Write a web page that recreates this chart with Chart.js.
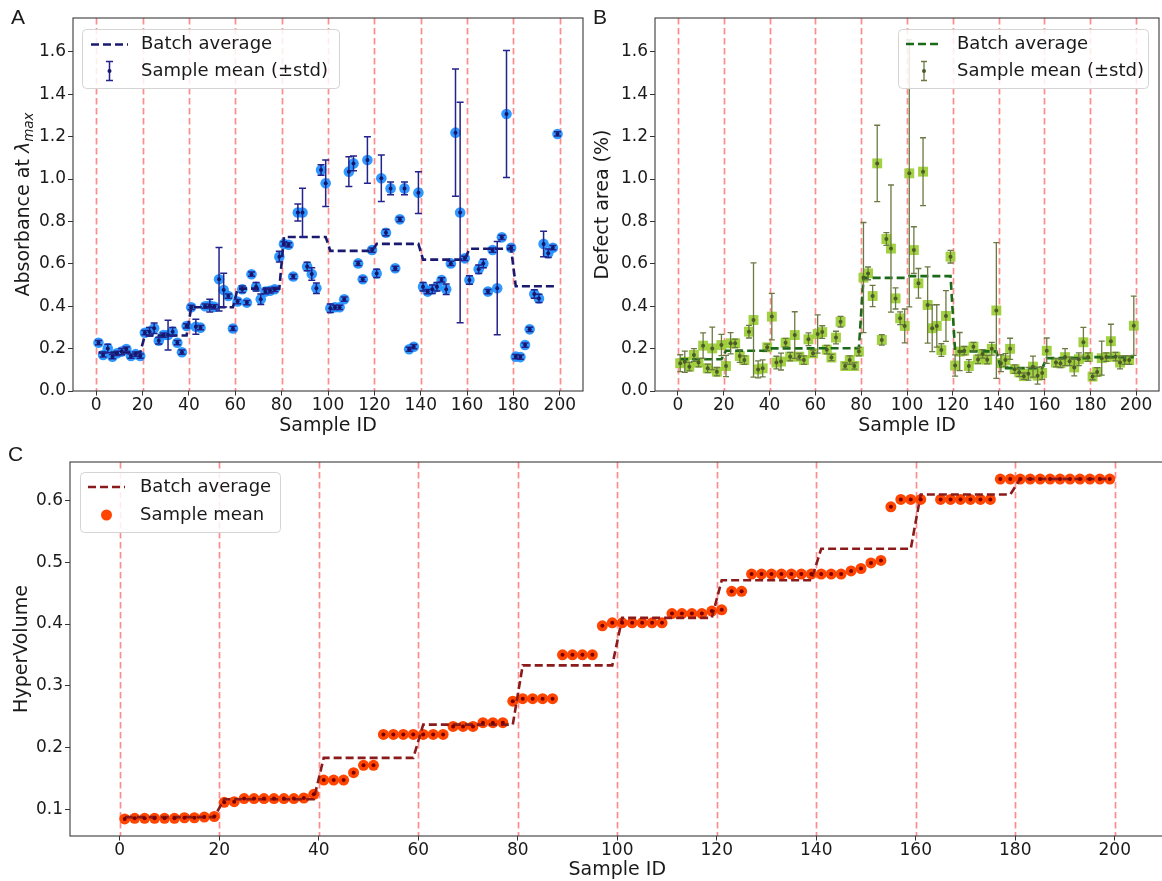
<!DOCTYPE html>
<html><head><meta charset="utf-8">
<script src="https://cdn.jsdelivr.net/npm/chart.js@4.4.1/dist/chart.umd.min.js"></script>
<style>
html,body{margin:0;padding:0;background:#fff;}
body{width:1162px;height:881px;overflow:hidden;position:relative;}
canvas{position:absolute;display:block;}
</style></head><body>
<canvas id="cA" width="590" height="440" style="left:0;top:0;width:590px;height:440px"></canvas>
<canvas id="cB" width="586" height="440" style="left:580px;top:0;width:586px;height:440px"></canvas>
<canvas id="cC" width="1170" height="441" style="left:0;top:440px;width:1170px;height:441px"></canvas>
<script>
// ---------------- data ----------------
const SAMPLE_IDS = [1,3,5,7,9,11,13,15,17,19,21,23,25,27,29,31,33,35,37,39,
  41,43,45,47,49,51,53,55,57,59,61,63,65,67,69,71,73,75,77,79,
  81,83,85,87,89,91,93,95,97,99,101,103,105,107,109,111,113,115,117,119,
  121,123,125,127,129,131,133,135,137,139,141,143,145,147,149,151,153,155,157,159,
  161,163,165,167,169,171,173,175,177,179,181,183,185,187,189,191,193,195,197,199];
const BATCH_EDGES = [0,20,40,60,80,100,120,140,160,180,200];
const X_TICKS = [0,20,40,60,80,100,120,140,160,180,200];
const Y_TICKS_AB = [0,0.2,0.4,0.6,0.8,1.0,1.2,1.4,1.6];
const Y_TICKS_C = [0.1,0.2,0.3,0.4,0.5,0.6];

// Panel A: absorbance
const ABS_MEAN = [0.228,0.170,0.201,0.162,0.178,0.186,0.198,0.165,0.174,0.165,
  0.275,0.280,0.296,0.237,0.264,0.264,0.280,0.228,0.183,0.307,
  0.395,0.303,0.299,0.400,0.403,0.397,0.527,0.476,0.448,0.295,
  0.422,0.480,0.417,0.551,0.492,0.433,0.469,0.473,0.480,0.634,
  0.694,0.690,0.540,0.842,0.842,0.587,0.552,0.485,1.043,0.980,
  0.390,0.395,0.395,0.433,1.035,1.074,0.602,0.527,1.090,0.665,
  0.555,1.004,0.747,0.956,0.579,0.810,0.956,0.197,0.209,0.936,
  0.492,0.469,0.480,0.492,0.524,0.480,0.602,1.219,0.842,0.626,
  0.524,null,0.574,0.602,0.469,0.665,0.485,0.725,1.307,0.676,
  0.162,0.160,0.217,0.291,0.458,0.437,0.694,0.650,0.676,1.213];
const ABS_STD = [0.01,0.01,0.02,0.01,0.01,0.015,0.01,0.01,0.01,0.01,
  0.01,0.02,0.025,0.015,0.01,0.07,0.02,0.01,0.01,0.01,
  0.01,0.035,0.01,0.01,0.03,0.01,0.15,0.08,0.01,0.01,
  0.01,0.015,0.01,0.01,0.02,0.025,0.01,0.01,0.01,0.025,
  0.01,0.01,0.01,0.04,0.115,0.02,0.03,0.025,0.025,0.11,
  0.02,0.01,0.01,0.01,0.07,0.035,0.01,0.01,0.11,0.01,
  0.02,0.11,0.015,0.03,0.01,0.01,0.03,0.01,0.01,0.098,
  0.02,0.01,0.02,0.02,0.01,0.025,0.01,0.30,0.52,0.01,
  0.02,null,0.02,0.02,0.01,0.01,0.22,0.01,0.30,0.01,
  0.01,0.01,0.01,0.01,0.02,0.02,0.06,0.02,0.01,0.01];
const ABS_BATCH = [0.182,0.262,0.395,0.483,0.727,0.661,0.694,0.620,0.671,0.494];

// Panel B: defect area
const DEF_MEAN = [0.131,0.138,0.115,0.170,0.134,0.214,0.107,0.201,0.091,0.217,
  0.118,0.225,0.225,0.165,0.146,0.280,0.335,0.102,0.107,0.206,
  0.351,0.134,0.139,0.228,0.162,0.264,0.162,0.146,0.244,0.178,
  0.269,0.278,0.195,0.158,0.252,0.327,0.118,0.146,0.118,0.186,
  0.535,0.555,0.448,1.074,0.241,0.717,0.672,0.437,0.343,0.307,
  1.027,0.665,0.508,1.035,0.406,0.296,0.307,0.193,0.354,0.634,
  0.120,0.186,0.190,0.118,0.209,0.149,0.175,0.148,0.199,0.380,
  0.131,0.146,0.199,0.103,0.088,0.070,0.081,0.115,0.072,0.085,
  0.190,null,0.134,0.131,0.160,0.140,0.111,0.150,0.230,0.160,
  0.068,0.090,0.155,0.160,0.235,0.162,0.134,0.146,0.146,0.308];
const DEF_STD = [0.04,0.05,0.02,0.03,0.02,0.06,0.02,0.10,0.02,0.05,
  0.05,0.05,0.02,0.03,0.02,0.03,0.27,0.04,0.04,0.015,
  0.11,0.03,0.04,0.02,0.02,0.11,0.015,0.02,0.03,0.015,
  0.09,0.03,0.02,0.015,0.03,0.025,0.015,0.02,0.015,0.02,
  0.26,0.03,0.05,0.18,0.025,0.03,0.30,0.05,0.03,0.08,
  0.63,0.11,0.07,0.16,0.18,0.11,0.10,0.03,0.12,0.03,
  0.05,0.09,0.02,0.03,0.02,0.02,0.02,0.02,0.03,0.32,
  0.04,0.03,0.05,0.02,0.02,0.015,0.03,0.05,0.04,0.03,
  0.06,null,0.02,0.02,0.04,0.02,0.04,0.03,0.07,0.02,
  0.015,0.02,0.08,0.02,0.08,0.02,0.03,0.02,0.02,0.14];
const DEF_BATCH = [0.150,0.190,0.201,0.202,0.534,0.542,0.187,0.108,0.155,0.160];

// Panel C: hypervolume
const HV_MEAN = [0.084,0.085,0.085,0.085,0.085,0.085,0.086,0.086,0.087,0.088,
  0.111,0.112,0.117,0.117,0.117,0.117,0.117,0.117,0.118,0.124,
  0.147,0.147,0.147,0.159,0.171,0.171,0.221,0.221,0.221,0.221,
  0.221,0.221,0.221,0.234,0.234,0.234,0.240,0.240,0.240,0.275,
  0.279,0.279,0.279,0.279,0.350,0.350,0.350,0.350,0.397,0.402,
  0.402,0.402,0.402,0.402,0.402,0.417,0.417,0.417,0.417,0.421,
  0.423,0.453,0.453,0.481,0.481,0.481,0.481,0.481,0.481,0.481,
  0.481,0.481,0.481,0.486,0.490,0.499,0.503,0.590,0.602,0.602,
  0.602,null,0.602,0.602,0.602,0.602,0.602,0.602,0.635,0.635,
  0.635,0.635,0.635,0.635,0.635,0.635,0.635,0.635,0.635,0.635];
const HV_BATCH = [0.087,0.116,0.183,0.237,0.333,0.410,0.471,0.522,0.610,0.635];

// ---------------- helpers ----------------
const FONT = "'DejaVu Sans', sans-serif";
Chart.defaults.font.family = FONT;
Chart.defaults.color = '#1a1a1a';
const TXT = '#1a1a1a';
const VLINE = 'rgba(255,70,70,0.62)';
const BATCH_DASH = [8, 4];

function pts(mean) {
  return SAMPLE_IDS.map((id, i) => mean[i] == null ? null : {x: id, y: mean[i]}).filter(p => p);
}
function batchPts(mean, batch) {
  return SAMPLE_IDS.map((id, i) => mean[i] == null ? null :
    {x: id, y: batch[Math.min(Math.floor(id / 20), batch.length - 1)]}).filter(p => p);
}
function xScale(h) {
  return {
    type: 'linear', min: -10, max: 210,
    afterBuildTicks: s => { s.ticks = X_TICKS.map(v => ({value: v})); },
    afterFit: s => { s.height = h; },
    ticks: {font: {size: 17}, color: TXT, padding: 0, maxRotation: 0, autoSkip: false, callback: v => String(v)},
    grid: {drawOnChartArea: false, drawTicks: true, tickLength: 4.5, color: '#333', lineWidth: 1},
    border: {display: false}
  };
}
function yScale(min, max, ticks, w) {
  return {
    type: 'linear', min: min, max: max,
    afterBuildTicks: s => { s.ticks = ticks.map(v => ({value: v})); },
    afterFit: s => { s.width = w; },
    ticks: {font: {size: 17}, color: TXT, padding: 2, autoSkip: false, callback: v => Number(v).toFixed(1)},
    grid: {drawOnChartArea: false, drawTicks: true, tickLength: 5, color: '#333', lineWidth: 1},
    border: {display: false}
  };
}
function roundRect(ctx, x, y, w, h, r) {
  ctx.beginPath();
  ctx.moveTo(x + r, y); ctx.lineTo(x + w - r, y); ctx.quadraticCurveTo(x + w, y, x + w, y + r);
  ctx.lineTo(x + w, y + h - r); ctx.quadraticCurveTo(x + w, y + h, x + w - r, y + h);
  ctx.lineTo(x + r, y + h); ctx.quadraticCurveTo(x, y + h, x, y + h - r);
  ctx.lineTo(x, y + r); ctx.quadraticCurveTo(x, y, x + r, y); ctx.closePath();
}
function drawErrSymbol(ctx, x, y, half, cap, color, dot, lw) {
  ctx.strokeStyle = color; ctx.lineWidth = lw; ctx.setLineDash([]);
  ctx.beginPath();
  ctx.moveTo(x, y - half); ctx.lineTo(x, y + half);
  ctx.moveTo(x - cap, y - half); ctx.lineTo(x + cap, y - half);
  ctx.moveTo(x - cap, y + half); ctx.lineTo(x + cap, y + half);
  ctx.stroke();
  ctx.fillStyle = dot; ctx.beginPath(); ctx.arc(x, y, 2, 0, Math.PI * 2); ctx.fill();
}

function decor(cfg) {
  return {
    id: 'decor',
    beforeDatasetsDraw(chart) {
      const {ctx, chartArea: a, scales: {x}} = chart;
      ctx.save();
      ctx.beginPath(); ctx.rect(a.left, a.top, a.right - a.left, a.bottom - a.top); ctx.clip();
      ctx.strokeStyle = VLINE; ctx.lineWidth = 1.7; ctx.setLineDash([6.5, 3.5]);
      BATCH_EDGES.forEach(v => {
        const px = Math.round(x.getPixelForValue(v)) + 0.5;
        ctx.beginPath(); ctx.moveTo(px, a.top); ctx.lineTo(px, a.bottom); ctx.stroke();
      });
      ctx.restore();
    },
    afterDatasetsDraw(chart) {
      const {ctx, chartArea: a, scales: {x, y}} = chart;
      ctx.save();
      ctx.beginPath(); ctx.rect(a.left, a.top, a.right - a.left, a.bottom - a.top); ctx.clip();
      ctx.setLineDash([]);
      SAMPLE_IDS.forEach((id, i) => {
        const m = cfg.mean[i];
        if (m == null) return;
        const px = x.getPixelForValue(id);
        if (cfg.std) {
          const s = cfg.std[i] || 0;
          const t = y.getPixelForValue(m + s), b = y.getPixelForValue(m - s);
          ctx.strokeStyle = cfg.errColor; ctx.lineWidth = cfg.errWidth;
          ctx.beginPath();
          ctx.moveTo(px, t); ctx.lineTo(px, b);
          ctx.moveTo(px - cfg.cap, t); ctx.lineTo(px + cfg.cap, t);
          ctx.moveTo(px - cfg.cap, b); ctx.lineTo(px + cfg.cap, b);
          ctx.stroke();
        }
        ctx.fillStyle = cfg.dotColor;
        ctx.beginPath(); ctx.arc(px, y.getPixelForValue(m), 2, 0, Math.PI * 2); ctx.fill();
      });
      ctx.restore();
    },
    afterDraw(chart) {
      const {ctx, chartArea: a} = chart;
      ctx.save();
      // frame
      ctx.strokeStyle = '#3a3a3a'; ctx.lineWidth = 1.1; ctx.setLineDash([]);
      ctx.strokeRect(a.left, a.top, a.right - a.left, a.bottom - a.top);
      // x title
      ctx.fillStyle = TXT; ctx.textAlign = 'center'; ctx.textBaseline = 'middle';
      ctx.font = '19px ' + FONT;
      ctx.fillText('Sample ID', (a.left + a.right) / 2 - cfg.xTitleShift, a.bottom + cfg.xTitleOff);
      // y title
      const cx = a.left - cfg.yTitleOff, cy = (a.top + a.bottom) / 2;
      ctx.save(); ctx.translate(cx, cy); ctx.rotate(-Math.PI / 2);
      if (cfg.yTitleParts) {
        let total = 0;
        cfg.yTitleParts.forEach(p => { ctx.font = p.font; p.w = ctx.measureText(p.t).width; total += p.w; });
        let xx = -total / 2;
        ctx.textAlign = 'left'; ctx.textBaseline = 'alphabetic';
        cfg.yTitleParts.forEach(p => { ctx.font = p.font; ctx.fillText(p.t, xx, p.dy); xx += p.w; });
      } else {
        ctx.font = '19px ' + FONT; ctx.fillText(cfg.yTitle, 0, 0);
      }
      ctx.restore();
      // legend
      const L = cfg.legend;
      roundRect(ctx, L.x + 0.5, L.y + 0.5, L.w, L.h, 4);
      ctx.fillStyle = 'rgba(255,255,255,0.85)'; ctx.fill();
      ctx.strokeStyle = '#d4d4d4'; ctx.lineWidth = 1; ctx.stroke();
      // row 1: dashed line
      ctx.strokeStyle = cfg.lineColor; ctx.lineWidth = 2.6; ctx.setLineDash(BATCH_DASH);
      ctx.beginPath(); ctx.moveTo(L.lx1, L.r1); ctx.lineTo(L.lx2, L.r1); ctx.stroke();
      ctx.setLineDash([]);
      // row 2 symbol
      const sx = (L.lx1 + L.lx2) / 2;
      if (cfg.std) {
        drawErrSymbol(ctx, sx, L.r2, 9.5, cfg.cap, cfg.errColor, cfg.dotColor, cfg.errWidth);
      } else {
        ctx.fillStyle = cfg.markerColor; ctx.beginPath(); ctx.arc(sx, L.r2, 5.5, 0, Math.PI * 2); ctx.fill();
      }
      ctx.fillStyle = TXT; ctx.font = '18px ' + FONT; ctx.textAlign = 'left'; ctx.textBaseline = 'middle';
      ctx.fillText('Batch average', L.tx, L.r1);
      ctx.fillText(cfg.meanLabel, L.tx, L.r2);
      // panel letter
      ctx.font = "21px 'Liberation Sans', Arial, sans-serif"; ctx.textBaseline = 'alphabetic';
      ctx.fillText(cfg.letter, cfg.letterX, cfg.letterY);
      ctx.restore();
    }
  };
}

function makeChart(id, cfg) {
  return new Chart(document.getElementById(id), {
    type: 'scatter',
    data: {
      datasets: [
        {label: 'Batch average', data: batchPts(cfg.mean, cfg.batch), showLine: true,
         borderColor: cfg.lineColor, borderWidth: 2.6, borderDash: BATCH_DASH, pointRadius: 0,
         fill: false, tension: 0, order: 0},
        {label: cfg.meanLabel, data: pts(cfg.mean), pointStyle: cfg.pointStyle, pointRadius: cfg.pointRadius,
         backgroundColor: cfg.markerColor, borderWidth: 0, order: 1}
      ]
    },
    options: {
      responsive: false, animation: false, events: [],
      layout: {padding: cfg.padding},
      plugins: {legend: {display: false}, tooltip: {enabled: false}},
      scales: {x: xScale(cfg.xH), y: yScale(cfg.yMin, cfg.yMax, cfg.yTicks, cfg.yW)}
    },
    plugins: [decor(cfg)]
  });
}

// Panel A
makeChart('cA', {
  mean: ABS_MEAN, std: ABS_STD, batch: ABS_BATCH,
  lineColor: '#191970', markerColor: 'rgba(30,144,255,0.92)', errColor: '#23238c', dotColor: '#16166a',
  errWidth: 1.5, cap: 3.5, pointStyle: 'circle', pointRadius: 5.3,
  padding: {left: 0, top: 18, right: 7, bottom: 9}, xH: 40, yW: 73,
  yMin: 0, yMax: 1.76, yTicks: Y_TICKS_AB,
  xTitleOff: 35, xTitleShift: 0, yTitleOff: 51,
  yTitleParts: [
    {t: 'Absorbance at ', font: '19px ' + FONT, dy: 7},
    {t: 'λ', font: 'italic 19px ' + FONT, dy: 7},
    {t: 'max', font: 'italic 13.5px ' + FONT, dy: 11}
  ],
  meanLabel: 'Sample mean (±std)',
  legend: {x: 82, y: 29, w: 257, h: 59, lx1: 91, lx2: 128, r1: 44.5, r2: 71, tx: 141},
  letter: 'A', letterX: 11, letterY: 24
});

// Panel B
makeChart('cB', {
  mean: DEF_MEAN, std: DEF_STD, batch: DEF_BATCH,
  lineColor: '#1a6a1a', markerColor: 'rgba(154,205,50,0.92)', errColor: '#6b7a43', dotColor: '#4c5a2a',
  errWidth: 1.3, cap: 3, pointStyle: 'rect', pointRadius: 7,
  padding: {left: 0, top: 18, right: 2, bottom: 9}, xH: 40, yW: 75,
  yMin: 0, yMax: 1.76, yTicks: Y_TICKS_AB,
  xTitleOff: 35, xTitleShift: 0, yTitleOff: 52, yTitle: 'Defect area (%)',
  meanLabel: 'Sample mean (±std)',
  legend: {x: 318, y: 29, w: 250, h: 59, lx1: 326, lx2: 362, r1: 44, r2: 71, tx: 377},
  letter: 'B', letterX: 13, letterY: 24
});

// Panel C
makeChart('cC', {
  mean: HV_MEAN, std: null, batch: HV_BATCH,
  lineColor: '#8b1a1a', markerColor: '#ff4500', dotColor: '#7a0000',
  pointStyle: 'circle', pointRadius: 5.5, cap: 3,
  padding: {left: 0, top: 22, right: 5, bottom: 10}, xH: 35, yW: 70,
  yMin: 0.0564, yMax: 0.6626, yTicks: Y_TICKS_C,
  xTitleOff: 34, xTitleShift: 0, yTitleOff: 48, yTitle: 'HyperVolume',
  meanLabel: 'Sample mean',
  legend: {x: 80, y: 32, w: 200, h: 60, lx1: 88, lx2: 125, r1: 47, r2: 75, tx: 140},
  letter: 'C', letterX: 8, letterY: 21
});
</script></body></html>
